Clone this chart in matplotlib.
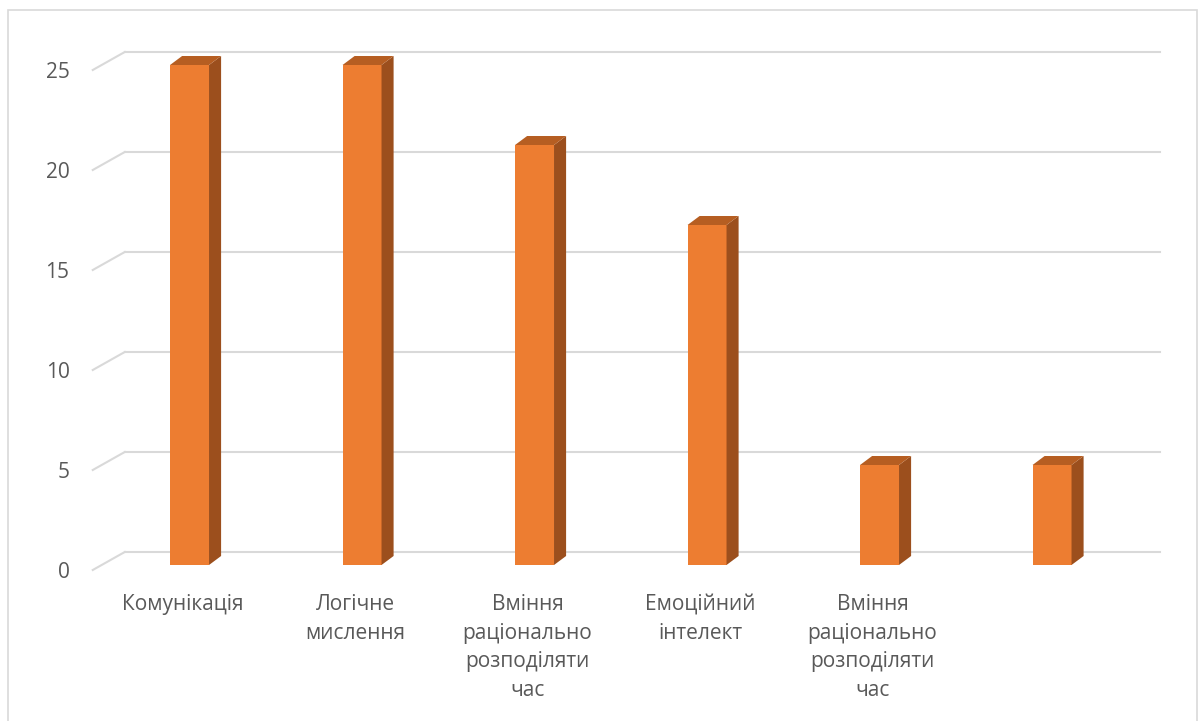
import matplotlib.pyplot as plt
from matplotlib.patches import Polygon, Rectangle

categories = ['Комунікація', 'Логічне\nмислення', 'Вміння\nраціонально\nрозподіляти\nчас',
              'Емоційний\nінтелект', 'Вміння\nраціонально\nрозподіляти\nчас', '']
values = [25, 25, 21, 17, 5, 5]
y_ticks = [0, 5, 10, 15, 20, 25]

ORANGE = '#ED7D31'
SIDE = '#9C4F1D'
TOP = '#B65E22'
GRID = '#D9D9D9'
TEXT = '#595959'
FONT = 'Open Sans'

# depth offsets (back wall) and bar geometry in data units
WALL_DX, WALL_DY = 0.1855, 0.9
BAR_OX, BAR_OY = 0.061, 0.25
BAR_W = 0.226
SIDE_DX, SIDE_DY = 0.07, 0.45

fig = plt.figure(figsize=(11.99, 7.21), dpi=100)
ax = fig.add_axes([0, 0, 1, 1])
ax.set_xlim(-1.0377, 5.913)
ax.set_ylim(-7.55, 28.5)
ax.axis('off')

# chart border
fig.patches.append(Rectangle((8 / 1199, -0.01), 1189 / 1199, 1 - 10 / 721 + 0.01,
                             transform=fig.transFigure, fill=False,
                             edgecolor=GRID, linewidth=1.2))

n = len(categories)
x0, x1 = -0.5, n - 0.5
for t in y_ticks:
    ax.plot([x0, x0 + WALL_DX], [t, t + WALL_DY], color=GRID, lw=1.5, zorder=1)
    ax.plot([x0 + WALL_DX, x1 + WALL_DX], [t + WALL_DY, t + WALL_DY], color=GRID, lw=1.5, zorder=1)
    ax.text(x0 - 0.135, t - 0.1, str(t), ha='right', va='center', fontsize=15,
            color=TEXT, family=FONT)

xs = list(range(n))
ax.bar([x + BAR_OX for x in xs], values, width=BAR_W, bottom=BAR_OY,
       color=ORANGE, edgecolor='none', zorder=3)
for x, v in zip(xs, values):
    l = x + BAR_OX - BAR_W / 2
    r = x + BAR_OX + BAR_W / 2
    top = v + BAR_OY
    ax.add_patch(Polygon([(r, BAR_OY), (r + SIDE_DX, BAR_OY + SIDE_DY),
                          (r + SIDE_DX, top + SIDE_DY), (r, top)],
                         closed=True, facecolor=SIDE, edgecolor='none', zorder=3))
    ax.add_patch(Polygon([(l, top), (r, top), (r + SIDE_DX, top + SIDE_DY),
                          (l + SIDE_DX, top + SIDE_DY)],
                         closed=True, facecolor=TOP, edgecolor='none', zorder=3))

for x, lab in zip(xs, categories):
    ax.text(x + 0.02, -1.2, lab, ha='center', va='top', fontsize=15,
            color=TEXT, family=FONT, linespacing=1.47)

fig.savefig('out.png', dpi=100)
